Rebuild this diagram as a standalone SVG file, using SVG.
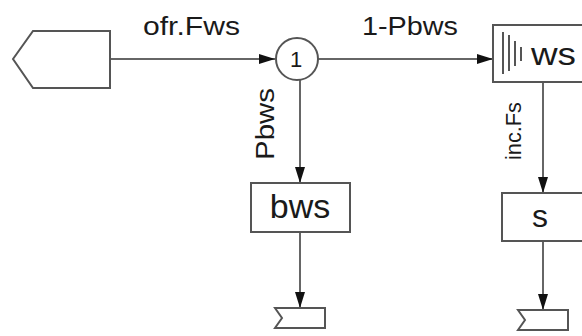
<svg xmlns="http://www.w3.org/2000/svg" width="582" height="336" viewBox="0 0 582 336">
<defs>
<style>
.shape{fill:#fff;stroke:#555;stroke-width:2}
.edge{fill:none;stroke:#333;stroke-width:1.5}
.lbl{font-family:"Liberation Sans",Arial,sans-serif;fill:#1a1a1a}
</style>
<marker id="arr" markerUnits="userSpaceOnUse" markerWidth="16" markerHeight="10" refX="16" refY="5" orient="auto" viewBox="0 0 16 10">
<path d="M0,0 L16,5 L0,10 z" fill="#111"/>
</marker>
</defs>
<rect width="582" height="336" fill="#fff"/>
<g id="connectors">
<line class="edge" x1="110" y1="59" x2="275" y2="59" marker-end="url(#arr)"/>
<line class="edge" x1="318" y1="59" x2="493" y2="59" marker-end="url(#arr)"/>
<line class="edge" x1="300" y1="80" x2="300" y2="183" marker-end="url(#arr)"/>
<line class="edge" x1="300" y1="232" x2="300" y2="308" marker-end="url(#arr)"/>
<line class="edge" x1="543" y1="82" x2="543" y2="193" marker-end="url(#arr)"/>
<line class="edge" x1="543" y1="241" x2="543" y2="310" marker-end="url(#arr)"/>
<text class="lbl" x="143" y="35" font-size="25" textLength="97" lengthAdjust="spacingAndGlyphs">ofr.Fws</text>
<text class="lbl" x="362" y="35" font-size="25" textLength="96" lengthAdjust="spacingAndGlyphs">1-Pbws</text>
<text class="lbl" font-size="25" textLength="72" lengthAdjust="spacingAndGlyphs" transform="translate(274,160) rotate(-90)">Pbws</text>
<text class="lbl" font-size="22" textLength="58" lengthAdjust="spacingAndGlyphs" transform="translate(521,160) rotate(-90)">inc.Fs</text>
</g>
<g id="source">
<polygon class="shape" points="13,59 33,31 110,31 110,88 33,88"/>
</g>
<g id="split">
<circle class="shape" cx="297" cy="59" r="21"/>
<text class="lbl" x="296" y="67" font-size="22" text-anchor="middle">1</text>
</g>
<g id="ws">
<rect class="shape" x="493" y="25" width="100" height="57"/>
<g stroke="#555" stroke-width="2">
<line x1="503" y1="32" x2="503" y2="74"/>
<line x1="509" y1="35" x2="509" y2="71"/>
<line x1="515" y1="41" x2="515" y2="66"/>
<line x1="521" y1="47" x2="521" y2="61"/>
</g>
<text class="lbl" x="531" y="65" font-size="32" textLength="45" lengthAdjust="spacingAndGlyphs">ws</text>
</g>
<g id="bws">
<rect class="shape" x="251" y="183" width="99" height="49"/>
<text class="lbl" x="300" y="218" font-size="34" text-anchor="middle">bws</text>
</g>
<g id="s">
<rect class="shape" x="502" y="193" width="90" height="48"/>
<text class="lbl" x="540" y="227" font-size="32" text-anchor="middle">s</text>
</g>
<g id="sink1">
<polygon class="shape" points="275,308 325,308 325,328 275,328 282,318"/>
</g>
<g id="sink2">
<polygon class="shape" points="518,310 568,310 568,330 518,330 525,320"/>
</g>
</svg>
